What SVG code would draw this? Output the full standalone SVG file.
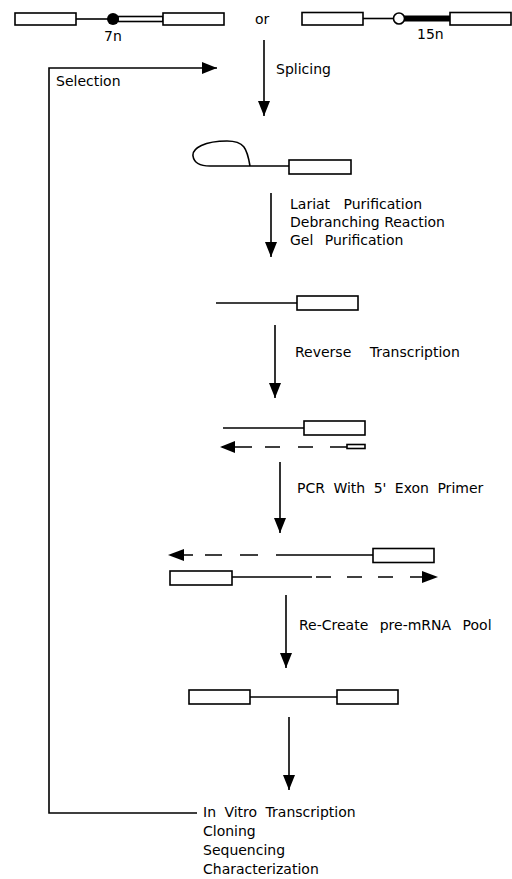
<svg xmlns="http://www.w3.org/2000/svg" width="512" height="879" viewBox="0 0 512 879">
<style>
text{font-family:"DejaVu Sans","Liberation Sans",sans-serif;font-size:14px;fill:#000}
.box{fill:#fff;stroke:#000;stroke-width:1.6}
.ln{fill:none;stroke:#000;stroke-width:1.6}
.ds{fill:none;stroke:#000;stroke-width:1.6}
.ar{fill:none;stroke:#000;stroke-width:1.6;marker-end:url(#ah)}
</style>
<defs>
<marker id="ah" markerUnits="userSpaceOnUse" markerWidth="16" markerHeight="12" refX="15" refY="6" orient="auto">
<path d="M0,0 L15,6 L0,12 z" fill="#000"/>
</marker>
</defs>
<rect width="512" height="879" fill="#fff"/>

<g id="construct-7n">
<rect class="box" x="15" y="13" width="61" height="12"/>
<line class="ln" x1="76" y1="19" x2="108" y2="19"/>
<rect class="box" x="118" y="16.5" width="45" height="5"/>
<ellipse cx="113" cy="19" rx="6" ry="6" fill="#000"/>
<rect class="box" x="163" y="13" width="61" height="12"/>
<text x="104" y="41">7n</text>
</g>
<g id="or-label"><text x="255" y="24">or</text></g>
<g id="construct-15n">
<rect class="box" x="302" y="12.5" width="61" height="12.5"/>
<line class="ln" x1="363" y1="18.5" x2="394" y2="18.5"/>
<rect x="404" y="15.5" width="47" height="6" fill="#000"/>
<circle cx="399" cy="18.5" r="5.5" fill="#fff" stroke="#000" stroke-width="1.6"/>
<rect class="box" x="450" y="12.5" width="61" height="12.5"/>
<text x="417" y="39">15n</text>
</g>

<g id="lariat">
<path class="ln" d="M250,166 C247,148 244,141 227,141 C205,141 192,148 193,156 C194,163 200,166 210,166 L289,166"/>
<rect class="box" x="289" y="160" width="62" height="14"/>
</g>
<g id="linear-intron">
<line class="ln" x1="216" y1="303" x2="297" y2="303"/>
<rect class="box" x="297" y="296" width="61" height="14"/>
</g>
<g id="rt-product">
<line class="ln" x1="223" y1="428" x2="304" y2="428"/>
<rect class="box" x="304" y="421" width="61" height="14"/>
<path class="ds" d="M222,447 L252,447 M265,447 L280,447 M298,447 L313,447 M330,447 L347,447"/>
<path d="M220,447 L235,441 L235,453 z" fill="#000"/>
<rect class="box" x="347" y="444.5" width="18" height="4" stroke-width="1.2"/>
</g>
<g id="pcr-products">
<path class="ds" d="M183,555 L193,555 M205,555 L222,555 M240,555 L258,555 M276,555 L373,555"/>
<path d="M168,555 L184,549 L184,561 z" fill="#000"/>
<rect class="box" x="373" y="548.5" width="61" height="14"/>
<rect class="box" x="170" y="571" width="62" height="14"/>
<path class="ds" d="M232,577 L312,577 M316,577 L331,577 M347,577 L362,577 M378,577 L393,577 M410,577 L424,577"/>
<path d="M438,577 L422,571 L422,583 z" fill="#000"/>
</g>
<g id="pre-mrna-pool">
<rect class="box" x="189" y="690" width="61" height="14"/>
<line class="ln" x1="250" y1="697" x2="337" y2="697"/>
<rect class="box" x="337" y="690" width="61" height="14"/>
</g>

<g id="connectors">
<line class="ar" x1="264" y1="40" x2="264" y2="116"/>
<line class="ar" x1="271" y1="193" x2="271" y2="257"/>
<line class="ar" x1="275" y1="325" x2="275" y2="398"/>
<line class="ar" x1="280" y1="462" x2="280" y2="533"/>
<line class="ar" x1="286" y1="595" x2="286" y2="668"/>
<line class="ar" x1="289" y1="717" x2="289" y2="790"/>
<path class="ar" d="M197,813 L49,813 L49,68 L217,68"/>
</g>

<g id="labels">
<text x="56" y="86">Selection</text>
<text x="276" y="74">Splicing</text>
<text x="290" y="209" style="word-spacing:9px">Lariat Purification</text>
<text x="290" y="227">Debranching Reaction</text>
<text x="290" y="245" style="word-spacing:7px">Gel Purification</text>
<text x="295" y="357" style="word-spacing:14px">Reverse Transcription</text>
<text x="297" y="493" style="word-spacing:4px">PCR With 5' Exon Primer</text>
<text x="299" y="630" style="word-spacing:7px">Re-Create pre-mRNA Pool</text>
<text x="203" y="817" style="word-spacing:4px">In Vitro Transcription</text>
<text x="203" y="836">Cloning</text>
<text x="203" y="855">Sequencing</text>
<text x="203" y="874">Characterization</text>
</g>
</svg>
